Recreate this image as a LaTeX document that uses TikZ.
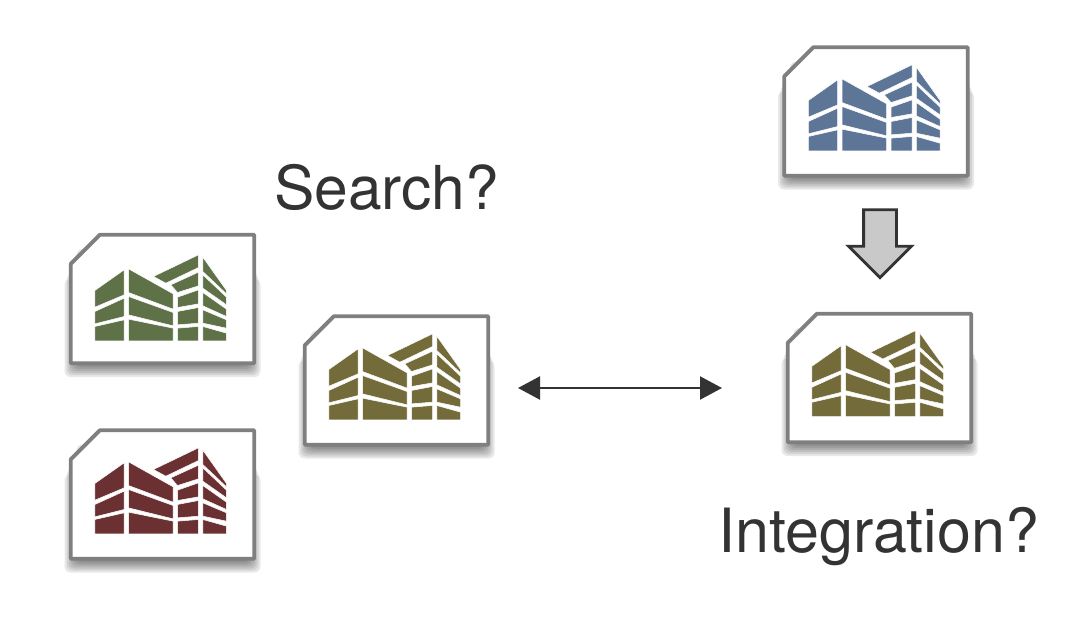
\documentclass[tikz,border=0pt]{standalone}
\usepackage{fontspec}
\setmainfont{TeX Gyre Heros}
\usetikzlibrary{arrows.meta,shapes.arrows}
\definecolor{bluebld}{HTML}{5D7596}
\definecolor{olivebld}{HTML}{736B3A}
\definecolor{greenbld}{HTML}{5F7147}
\definecolor{redbld}{HTML}{6B3032}
\definecolor{cardline}{HTML}{7F7F7F}
\definecolor{darktext}{HTML}{333333}
\tikzstyle{card} = [rectangle, minimum width=183pt, minimum height=128pt, inner sep=0pt]
\tikzstyle{cardedge} = [draw=cardline, line width=3.8pt, fill=white, line join=round]
\tikzstyle{label} = [anchor=base west, inner sep=0pt, text=darktext, font=\fontsize{60.5}{60}\selectfont]
\tikzstyle{link} = [{Triangle[length=22pt,width=23pt]}-{Triangle[length=22pt,width=23pt]}, line width=2.2pt, draw=darktext]
\tikzstyle{bigarrow} = [single arrow, single arrow head extend=15pt, minimum height=68pt, inner xsep=15pt, inner ysep=0pt, shape border rotate=270, draw=darktext, line width=2.8pt, fill=black!21]
\tikzset{
  pics/building/.style={code={
    \filldraw[pic actions, draw=white, line width=0.5pt, x=0.3333pt, y=-0.3333pt, shift={(-320,-245)}]
      (117,212) -- (205,150) -- (205,225) -- (117,262) -- cycle
      (117,275) -- (205,235) -- (205,290) -- (117,312) -- cycle
      (117,320) -- (205,300) -- (205,363) -- (117,363) -- cycle
      (218,147) -- (352,222) -- (352,268) -- (218,218) -- cycle
      (218,230) -- (352,278) -- (352,318) -- (218,285) -- cycle
      (218,298) -- (352,325) -- (352,363) -- (218,363) -- cycle
      (293,170) -- (428,105) -- (428,143) -- (330,190) -- cycle
      (345,195) -- (428,157) -- (428,198) -- (365,218) -- cycle
      (365,232) -- (428,210) -- (428,252) -- (365,263) -- cycle
      (365,275) -- (428,263) -- (428,310) -- (365,315) -- cycle
      (365,325) -- (428,320) -- (428,363) -- (365,363) -- cycle
      (441,112) -- (512,212) -- (512,222) -- (441,155) -- cycle
      (441,165) -- (512,232) -- (512,255) -- (441,205) -- cycle
      (441,218) -- (512,268) -- (512,290) -- (441,258) -- cycle
      (441,270) -- (512,300) -- (512,325) -- (441,310) -- cycle
      (441,320) -- (512,340) -- (512,363) -- (441,363) -- cycle;
  }}
}

\begin{document}
\begin{tikzpicture}[x=1pt, y=-1pt]
\useasboundingbox (0,0) rectangle (1078,621);

\foreach \nm/\cx/\cy/\col/\dy in {green/162.5/299/greenbld/2.5, red/162.5/494.5/redbld/0, search/396.5/380.5/olivebld/0, merged/879.5/378/olivebld/-0.7, source/876/111.5/bluebld/0}{
  \foreach \e in {-6,-4,...,6}
    \fill[black, opacity=0.09, rounded corners=6pt] ({\cx-92-\e},{\cy-35+\e*2.5}) rectangle ({\cx+92+\e},{\cy+72+\e});
  \node (\nm) [card] at (\cx,\cy) {};
  \draw[cardedge] (\nm.north west) ++(0,29) -- ++(29,-29) -- (\nm.north east) -- (\nm.south east) -- (\nm.south west) -- cycle;
  \pic[fill=\col] at ([yshift=-\dy pt]\nm.center) {building};
}

\node (searchlabel) [label] at (274,209) {Search?};
\node (mergelabel) [label, font=\fontsize{61}{60}\selectfont] at (718,552) {Integration?};

\node (sourcearrow) [bigarrow] at (880,235.5) {};

\coordinate (linkleft) at (518,388);
\coordinate (linkright) at (722,388);
\draw[link] (linkleft) -- (linkright);
\end{tikzpicture}
\end{document}
